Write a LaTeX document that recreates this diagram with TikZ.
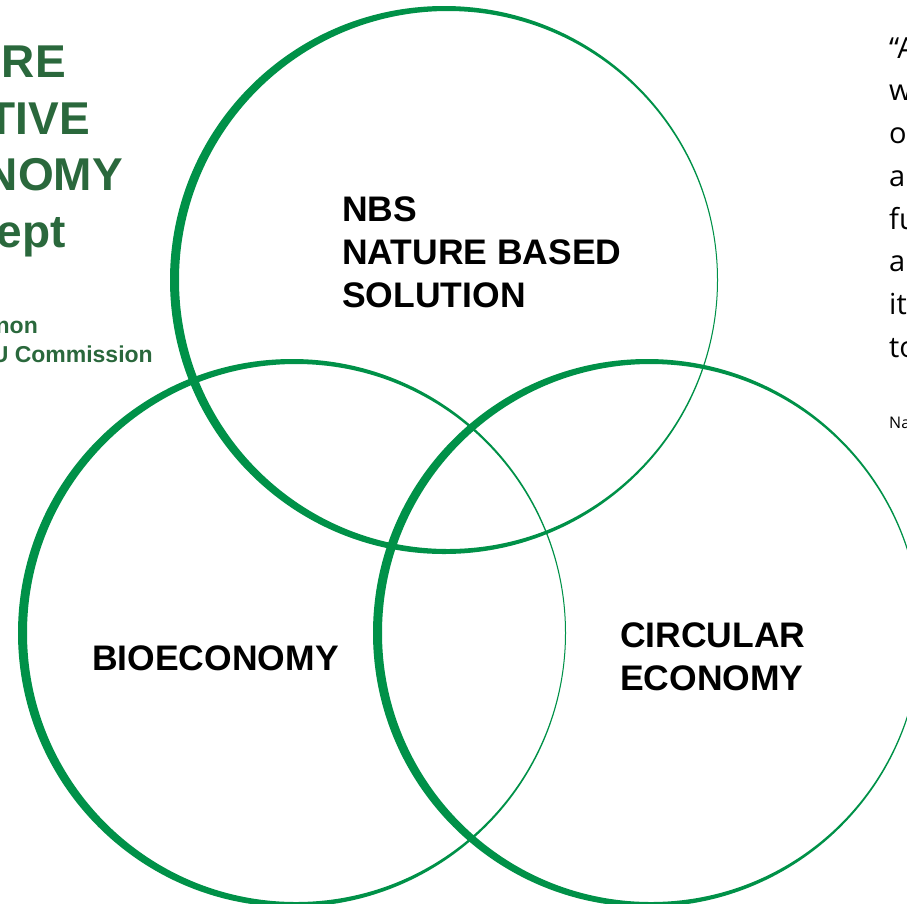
\documentclass[tikz,border=0pt]{standalone}
\usepackage{fontspec}
\setmainfont{Liberation Sans}
\newfontfamily\quotefont{Open Sans}
\definecolor{ringgreen}{RGB}{0,145,72}
\definecolor{titlegreen}{RGB}{42,104,60}

\begin{document}
\begin{tikzpicture}[
x=1pt,y=-1pt,
ring/.style={
  fill=ringgreen,
  even odd rule
  },
ringtext/.style={inner sep=0pt,align=left,anchor=base west,
  font=\bfseries\fontsize{35.5}{43}\selectfont},
headline/.style={inner sep=0pt,anchor=base east,text=titlegreen,
  font=\bfseries\fontsize{46}{46}\selectfont},
quotetext/.style={inner sep=0pt,anchor=base west,
  font=\quotefont\fontsize{29}{29}\selectfont}
]
\useasboundingbox (0,0) rectangle (907,903);
\clip (0,0) rectangle (907,903);
% rings, thick on the left
\foreach \Name/\X/\Y in {nbs/444/280,bio/292/633,circ/647/633}
  \fill[ring] (\X,\Y) coordinate (\Name) circle[radius=274pt]
    (\X+4,\Y) circle[radius=269pt];
% base of a node is the base of its last line
\node[ringtext] (nbslabel) at (342,307) {NBS\\NATURE BASED\\SOLUTION};
\node[ringtext] (biolabel) at (92,670) {BIOECONOMY};
\node[ringtext] (circlabel) at (620,690) {CIRCULAR\\ECONOMY};
% title on the left
\foreach \Text/\X/\Y [count=\i] in {RE/66/77,TIVE/90/134,NOMY/123/190,ept/66/247}
  \node[headline] (head\i) at (\X,\Y) {\Text};
\node[headline,font=\bfseries\fontsize{23}{23}\selectfont] (src1) at (38,333) {non};
\node[headline,font=\bfseries\fontsize{23}{23}\selectfont] (src2) at (153,362) {U Commission};
% quote on the right
\foreach \Text/\Y [count=\i] in {“A/58,w/100,o/143,a/186,fu/229,a/271,it/314,to/357}
  \node[quotetext] (q\i) at (889,\Y) {\Text};
\node[quotetext,font=\quotefont\fontsize{16}{16}\selectfont] (qsrc) at (889,428) {Na};
\end{tikzpicture}
\end{document}
